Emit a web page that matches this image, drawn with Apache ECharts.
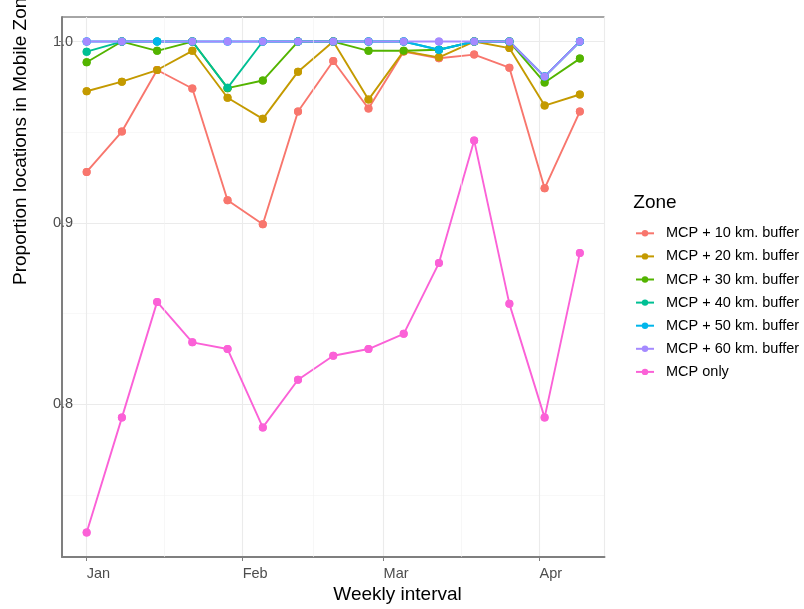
<!DOCTYPE html>
<html>
<head>
<meta charset="utf-8">
<script src="https://cdn.jsdelivr.net/npm/echarts@6/dist/echarts.min.js"></script>
<style>
html,body{margin:0;padding:0;background:#fff;}
#chart{width:804px;height:609px;}
</style>
</head>
<body>
<div id="chart"></div>
<script>
// ---- data ----
var weeks = ['2015-01-01','2015-01-08','2015-01-15','2015-01-22','2015-01-29','2015-02-05','2015-02-12','2015-02-19','2015-02-26','2015-03-05','2015-03-12','2015-03-19','2015-03-26','2015-04-02','2015-04-09'];
var zoneNames = ['MCP + 10 km. buffer','MCP + 20 km. buffer','MCP + 30 km. buffer','MCP + 40 km. buffer','MCP + 50 km. buffer','MCP + 60 km. buffer','MCP only'];
var buf10 = [0.9281, 0.9504, 0.9843, 0.9741, 0.9125, 0.8993, 0.9614, 0.9893, 0.9631, 0.9945, 0.9908, 0.9928, 0.9856, 0.9191, 0.9614];
var buf20 = [0.9726, 0.9779, 0.9843, 0.9949, 0.9690, 0.9574, 0.9834, 1.0, 0.9680, 0.9947, 0.9913, 1.0, 0.9964, 0.9647, 0.9708];
var buf30 = [0.9886, 1.0, 0.9949, 1.0, 0.9743, 0.9785, 1.0, 1.0, 0.9949, 0.9949, 0.9955, 1.0, 1.0, 0.9774, 0.9906];
var buf40 = [0.9944, 1.0, 1.0, 1.0, 0.9745, 1.0, 1.0, 1.0, 1.0, 1.0, 0.9955, 1.0, 1.0, 0.9807, 1.0];
var buf50 = [1.0, 1.0, 1.0, 1.0, 1.0, 1.0, 1.0, 1.0, 1.0, 1.0, 0.9955, 1.0, 1.0, 0.9807, 1.0];
var buf60 = [1.0, 1.0, null, 1.0, 1.0, 1.0, 1.0, 1.0, 1.0, 1.0, 1.0, 1.0, 1.0, 0.9807, 1.0];
var mcpOnly = [0.7294, 0.7927, 0.8565, 0.8342, 0.8305, 0.7873, 0.8136, 0.8268, 0.8305, 0.8389, 0.8779, 0.9455, 0.8554, 0.7927, 0.8834];
var monthBreaks = ['2015-01-01','2015-02-01','2015-03-01','2015-04-01'];
var monthLabels = ['Jan','Feb','Mar','Apr','May','Jun','Jul','Aug','Sep','Oct','Nov','Dec'];
var xTitle = 'Weekly interval';
var yTitle = 'Proportion locations in Mobile Zone';
var legendTitle = 'Zone';

var zoneValues = [buf10, buf20, buf30, buf40, buf50, buf60, mcpOnly];
var zoneColors = ['#F8766D','#C49A00','#53B400','#00C094','#00B6EB','#A58AFF','#FB61D7'];

function parseLocal(s){ var p = s.split('-'); return new Date(+p[0], +p[1]-1, +p[2]).getTime(); }
var xs = weeks.map(parseLocal);
var DAY = 86400000;
var xSpan = xs[xs.length-1] - xs[0];
var xMin = xs[0] - 0.05 * xSpan, xMax = xs[xs.length-1] + 0.05 * xSpan;
var allVals = [].concat.apply([], zoneValues).filter(function(v){return v!=null;});
var yLo = Math.min.apply(null, allVals), yHi = Math.max.apply(null, allVals);
var yMin = yLo - 0.05*(yHi-yLo), yMax = yHi + 0.05*(yHi-yLo);

// minor x grid: midpoints between month breaks (ggplot style)
var mb = monthBreaks.map(parseLocal);
var minorX = [];
for (var k = 0; k < mb.length - 1; k++) minorX.push((mb[k] + mb[k+1]) / 2);

var FONT = 'Liberation Sans, Arial, sans-serif';
var series = [];
series.push({
  type:'line', name:'_minor', data:[], silent:true, z:1,
  markLine:{silent:true, symbol:['none','none'], animation:false,
    label:{show:false}, lineStyle:{color:'#f2f2f2', width:0.6, type:'solid'},
    emphasis:{disabled:true},
    data: minorX.map(function(t){ return {xAxis:t}; })}
});
zoneValues.forEach(function(vals, i){
  var d = xs.map(function(x, j){ return [x, vals[j]]; });
  series.push({
    type:'line', name: zoneNames[i], data: d, connectNulls: true,
    symbol:'circle', symbolSize: 8, showSymbol: true,
    lineStyle:{width:1.9, color: zoneColors[i]}, itemStyle:{color: zoneColors[i]},
    z: 2, silent: true, emphasis:{disabled:true}
  });
});
zoneValues.forEach(function(vals, i){
  var d = xs.map(function(x, j){ return [x, vals[j]]; }).filter(function(p){return p[1]!=null;});
  series.push({
    type:'scatter', name: zoneNames[i], data: d,
    symbol:'circle', symbolSize: 8, itemStyle:{color: zoneColors[i], opacity:1},
    z: 3, silent: true, emphasis:{disabled:true}
  });
});

var chart = echarts.init(document.getElementById('chart'), null, {renderer:'canvas'});
chart.setOption({
  animation:false,
  backgroundColor:'#ffffff',
  legend:{
    orient:'vertical', left:635, top:225.8, padding:0, itemGap:8.1,
    itemWidth:18, itemHeight:8,
    data: zoneNames,
    textStyle:{fontFamily:FONT, fontSize:14.5, lineHeight:14, color:'#000', padding:[0,0,0,7]},
    selectedMode:false
  },
  graphic:[
    {type:'text', x:333.3, y:594.5, silent:true,
      style:{text:xTitle, font:'19px ' + FONT, fill:'#000', align:'left', verticalAlign:'middle'}},
    {type:'text', x:20.5, y:285, rotation:Math.PI/2, silent:true,
      style:{text:yTitle, font:'19px ' + FONT, fill:'#000', align:'left', verticalAlign:'middle'}},
    {type:'text', x:633.3, y:202.5, silent:true,
      style:{text:legendTitle, font:'19px ' + FONT, fill:'#000', align:'left', verticalAlign:'middle'}}
  ],
  grid:{left:62, right:199.5, top:17, bottom:52, show:true, borderColor:'#4d4d4d', borderWidth:1, backgroundColor:'#fff', outerBoundsMode:'none'},
  xAxis:[{
    type:'time', min:xMin, max:xMax, splitNumber:4, minInterval:28*DAY, maxInterval:31*DAY,
    axisLine:{show:true, lineStyle:{color:'#7f7f7f', width:2}},
    axisTick:{show:true, length:4, lineStyle:{color:'#7f7f7f', width:1}},
    axisLabel:{fontFamily:FONT, fontSize:14.5, color:'#4d4d4d', align:'left', margin:9,
      formatter:function(v){ return monthLabels[new Date(v).getMonth()]; }, hideOverlap:false},
    splitLine:{show:true, lineStyle:{color:'#ebebeb', width:1.1}},
    minorTick:{show:false},
    minorSplitLine:{show:false}
  }],
  yAxis:[{
    type:'value', min:yMin, max:yMax, splitNumber:3,
    axisLine:{show:true, lineStyle:{color:'#7f7f7f', width:2}},
    axisTick:{show:true, length:3, lineStyle:{color:'#7f7f7f'}},
    axisLabel:{fontFamily:FONT, fontSize:14.5, color:'#4d4d4d', align:'left', margin:9,
      showMinLabel:false, showMaxLabel:false,
      formatter:function(v){ return v.toFixed(1); }},
    splitLine:{show:true, showMinLine:false, showMaxLine:false, lineStyle:{color:'#ebebeb', width:1.1}},
    z: 1
  },{
    type:'value', min:yMin, max:yMax, splitNumber:6, position:'left',
    axisLine:{show:false}, axisTick:{show:false}, axisLabel:{show:false},
    splitLine:{show:true, showMinLine:false, showMaxLine:false, lineStyle:{color:'#f3f3f3', width:0.6}},
    z: 0
  }],
  series: series
});
</script>
</body>
</html>
